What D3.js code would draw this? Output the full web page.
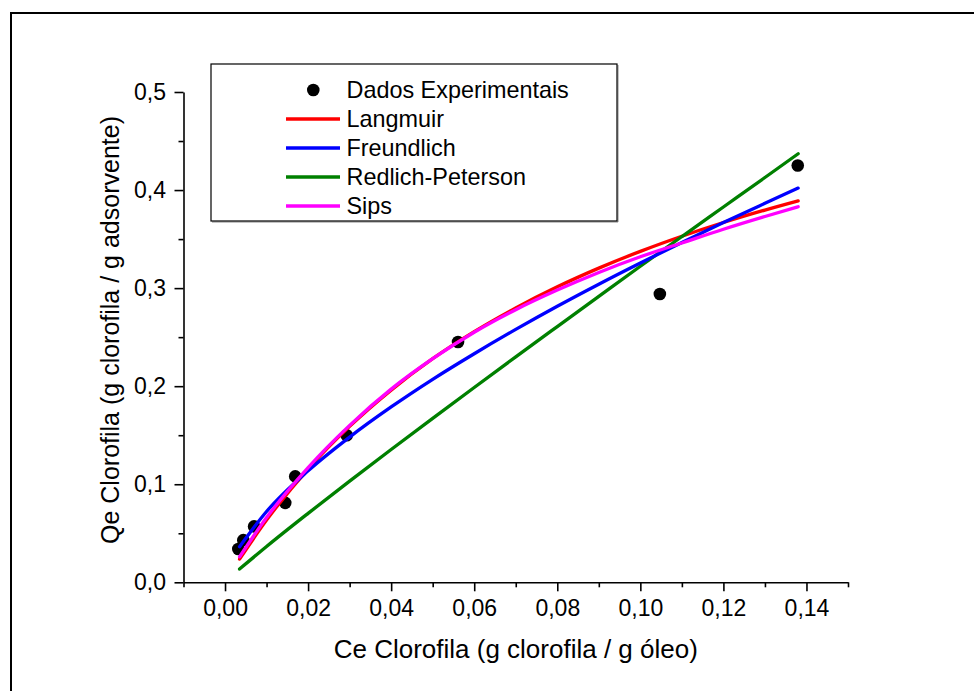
<!DOCTYPE html>
<html>
<head>
<meta charset="utf-8">
<script src="https://cdn.jsdelivr.net/npm/d3@7"></script>
<style>
  html, body { margin: 0; padding: 0; background: #fff; }
  svg { display: block; }
  text { font-family: "Liberation Sans", Arial, sans-serif; fill: #000; }
</style>
</head>
<body>
<svg id="chart" width="974" height="691"></svg>
<script>
// ---- Data ----
const expCe = [0.0032, 0.0044, 0.0070, 0.0145, 0.0169, 0.0293, 0.0561, 0.1047, 0.1379];
const expQe = [0.034, 0.043, 0.057, 0.081, 0.108, 0.150, 0.245, 0.294, 0.425];

const curveCe = [0.0035, 0.01, 0.02, 0.03, 0.04, 0.05, 0.06, 0.07, 0.08, 0.09, 0.10, 0.11, 0.12, 0.13, 0.138];
const langmuirQe = [0.0237, 0.0634, 0.1155, 0.159, 0.196, 0.228, 0.2556, 0.2798, 0.3013, 0.3204, 0.3375, 0.3529, 0.3669, 0.3796, 0.389];
const freundlichQe = [0.0363, 0.0722, 0.1137, 0.1481, 0.1788, 0.2070, 0.2331, 0.2579, 0.2815, 0.3040, 0.3256, 0.3466, 0.3669, 0.3865, 0.402];
const redlichQe = [0.0135, 0.0365, 0.0703, 0.1032, 0.1354, 0.1672, 0.1987, 0.2299, 0.2608, 0.2916, 0.3223, 0.3526, 0.3827, 0.4128, 0.437];
const sipsQe = [0.026, 0.066, 0.117, 0.160, 0.197, 0.228, 0.255, 0.278, 0.298, 0.316, 0.332, 0.346, 0.360, 0.373, 0.383];

const seriesNames = ["Langmuir", "Freundlich", "Redlich-Peterson", "Sips"];
const seriesColors = ["#ff0000", "#0000ff", "#008000", "#ff00ff"];
const seriesValues = [langmuirQe, freundlichQe, redlichQe, sipsQe];
const expName = "Dados Experimentais";

const xMajorTicks = [0.00, 0.02, 0.04, 0.06, 0.08, 0.10, 0.12, 0.14];
const xMinorTicks = [-0.01, 0.01, 0.03, 0.05, 0.07, 0.09, 0.11, 0.13, 0.15];
const yMajorTicks = [0.0, 0.1, 0.2, 0.3, 0.4, 0.5];
const yMinorTicks = [0.05, 0.15, 0.25, 0.35, 0.45];

const xTitle = "Ce Clorofila (g clorofila / g óleo)";
const yTitle = "Qe Clorofila (g clorofila / g adsorvente)";

// ---- Drawing ----
const svg = d3.select("#chart");

// outer frame
svg.append("rect")
  .attr("x", 11).attr("y", 13).attr("width", 1200).attr("height", 1000)
  .attr("fill", "none").attr("stroke", "#000").attr("stroke-width", 2);

const x = d3.scaleLinear().domain([-0.01, 0.15]).range([183.5, 848]);
const y = d3.scaleLinear().domain([0, 0.5]).range([582.3, 92]);

const fmtX = d => d.toFixed(2).replace(".", ",");
const fmtY = d => d.toFixed(1).replace(".", ",");

// X axis
const gx = svg.append("g").attr("transform", `translate(0,${y(0)})`);
gx.call(d3.axisBottom(x).tickValues(xMajorTicks).tickFormat(fmtX).tickSize(9).tickSizeOuter(0).tickPadding(8));
const gxm = svg.append("g").attr("transform", `translate(0,${y(0)})`);
gxm.call(d3.axisBottom(x).tickValues(xMinorTicks).tickFormat("").tickSize(5).tickSizeOuter(0));
gxm.select(".domain").remove();

// Y axis
const gy = svg.append("g").attr("transform", `translate(${x(-0.01)},0)`);
gy.call(d3.axisLeft(y).tickValues(yMajorTicks).tickFormat(fmtY).tickSize(9).tickSizeOuter(0).tickPadding(8.5));
const gym = svg.append("g").attr("transform", `translate(${x(-0.01)},0)`);
gym.call(d3.axisLeft(y).tickValues(yMinorTicks).tickFormat("").tickSize(5).tickSizeOuter(0));
gym.select(".domain").remove();

svg.selectAll(".domain, .tick line").attr("stroke", "#000").attr("stroke-width", 1.6);
svg.selectAll(".tick text")
  .attr("font-family", "'Liberation Sans', Arial, sans-serif")
  .attr("font-size", 23).attr("fill", "#000");

// axis titles
svg.append("text")
  .attr("x", (x(-0.01) + x(0.15)) / 2).attr("y", 658)
  .attr("text-anchor", "middle").attr("font-size", 26)
  .text(xTitle);
svg.append("text")
  .attr("transform", `translate(119,330) rotate(-90)`)
  .attr("text-anchor", "middle").attr("font-size", 25)
  .text(yTitle);

// experimental points (drawn first, lines on top)
svg.append("g").selectAll("circle")
  .data(expCe.map((c, i) => [c, expQe[i]]))
  .join("circle")
  .attr("cx", d => x(d[0])).attr("cy", d => y(d[1])).attr("r", 6.3)
  .attr("fill", "#000");

// model curves
const line = d3.line().x(d => x(d[0])).y(d => y(d[1])).curve(d3.curveMonotoneX);
const drawOrder = [0, 2, 1, 3];
drawOrder.forEach(i => {
  svg.append("path")
    .datum(curveCe.map((c, j) => [c, seriesValues[i][j]]))
    .attr("d", line)
    .attr("fill", "none")
    .attr("stroke", seriesColors[i])
    .attr("stroke-width", 3.3)
    .attr("stroke-linecap", "round");
});

// legend
const lg = svg.append("g");
lg.append("line").attr("x1", 212).attr("x2", 618).attr("y1", 222).attr("y2", 222).attr("stroke", "#888").attr("stroke-width", 1);
lg.append("line").attr("x1", 618).attr("x2", 618).attr("y1", 65).attr("y2", 222).attr("stroke", "#888").attr("stroke-width", 1);
lg.append("rect").attr("x", 211).attr("y", 64).attr("width", 406).attr("height", 157)
  .attr("fill", "#fff").attr("stroke", "#000").attr("stroke-width", 1.2);

const rowY0 = 90, rowStep = 29;
lg.append("circle").attr("cx", 313.3).attr("cy", rowY0).attr("r", 6.3).attr("fill", "#000");
lg.append("text").attr("x", 346.5).attr("y", rowY0).attr("dy", "0.36em")
  .attr("font-size", 23.4).text(expName);
seriesNames.forEach((name, i) => {
  const yy = rowY0 + rowStep * (i + 1);
  lg.append("line").attr("x1", 286).attr("x2", 340).attr("y1", yy).attr("y2", yy)
    .attr("stroke", seriesColors[i]).attr("stroke-width", 3.3);
  lg.append("text").attr("x", 346.5).attr("y", yy).attr("dy", "0.36em")
    .attr("font-size", 23.4).text(name);
});
</script>
</body>
</html>
